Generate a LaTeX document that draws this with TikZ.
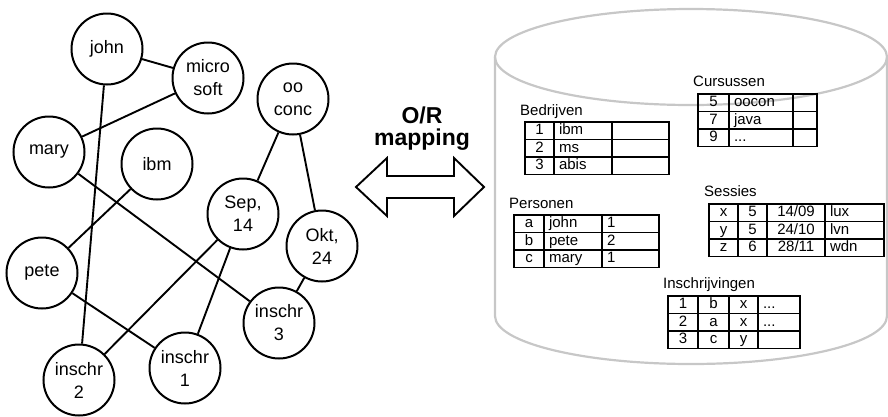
\documentclass[tikz,border=0pt]{standalone}
\usepackage{fontspec}
\setmainfont{Liberation Sans}
\usetikzlibrary{matrix}
\tikzset{
  obj/.style={draw,circle,line width=2pt,minimum size=71pt,inner sep=0pt,
    align=center,font=\fontsize{18}{23}\selectfont},
  link/.style={line width=1.9pt},
  dbtab/.style={matrix of nodes,nodes in empty cells,
    column sep=-\pgflinewidth,row sep=-\pgflinewidth,line width=1.7pt,
    nodes={draw,line width=1.7pt,font=\fontsize{15}{18}\selectfont,
      minimum height=17.5pt,text height=11pt,text depth=3.5pt,inner sep=0pt}},
  mid/.style={minimum width=#1},
  lft/.style={text width=#1,inner xsep=5pt,align=left},
  tabtitle/.style={anchor=base west,inner sep=0pt,font=\fontsize{15}{18}\selectfont}
}
\begin{document}
\begin{tikzpicture}[x=1pt,y=-1pt]
\useasboundingbox (0,0) rectangle (888,416);
% the object graph
\node[obj] (john) at (107,49) {john};
\node[obj] (ms) at (208,78) {micro\\soft};
\node[obj] (oo) at (293,99) {oo\\conc};
\node[obj] (mary) at (49,152) {mary};
\node[obj] (ibm) at (157,164) {ibm};
\node[obj] (sep) at (243,214) {Sep,\\14};
\node[obj] (okt) at (322,246) {Okt,\\24};
\node[obj] (pete) at (42,273) {pete};
\node[obj] (ins3) at (279,323) {inschr\\3};
\node[obj] (ins1) at (185,368) {inschr\\1};
\node[obj] (ins2) at (79,380) {inschr\\2};
\draw[link] (john) -- (ms);
\draw[link] (john) -- (ins2);
\draw[link] (ms) -- (mary);
\draw[link] (mary) -- (ins3);
\draw[link] (ibm) -- (pete);
\draw[link] (oo) -- (sep);
\draw[link] (oo) -- (okt);
\draw[link] (okt) -- (ins3);
\draw[link] (sep) -- (ins2);
\draw[link] (sep) -- (ins1);
\draw[link] (pete) -- (ins1);
% the mapping arrow
\node[align=center,font=\fontsize{23}{22}\bfseries] (map) at (422,129) {O/R\\mapping};
\draw[line width=1.9pt] (356,187) -- (387,158) -- (387,176) -- (454,176) -- (454,158)
  -- (484,187) -- (454,216) -- (454,198) -- (387,198) -- (387,216) -- cycle;
% the database
\draw[line width=2.2pt,black!22] (691,57) ellipse [x radius=196pt,y radius=48pt];
\draw[line width=2.2pt,black!22] (495,57) -- (495,316)
  arc [start angle=180,end angle=360,x radius=196pt,y radius=48pt] -- (887,57);
% the tables
\matrix (bedr) [dbtab,anchor=north west,
  column 1/.style={nodes={mid=29pt}},column 2/.style={nodes={lft=48pt}},
  column 3/.style={nodes={lft=47pt}}] at (520,117) {
1 & ibm & \\
2 & ms & \\
3 & abis & \\
};
\node[tabtitle] (bedrt) at ([yshift=2pt]bedr.north west) {Bedrijven};
\matrix (pers) [dbtab,anchor=north west,
  column 1/.style={nodes={mid=30pt}},column 2/.style={nodes={lft=48pt}},
  column 3/.style={nodes={lft=47pt}}] at (509,210) {
a & john & 1 \\
b & pete & 2 \\
c & mary & 1 \\
};
\node[tabtitle] (perst) at ([yshift=2pt]pers.north west) {Personen};
\matrix (curs) [dbtab,anchor=north west,
  column 1/.style={nodes={mid=31pt}},column 2/.style={nodes={lft=54pt}},
  column 3/.style={nodes={lft=14pt}}] at (693,89) {
5 & oocon & \\
7 & java & \\
9 & ... & \\
};
\node[tabtitle] (curst) at ([yshift=2.5pt]curs.north west) {Cursussen};
\matrix (sess) [dbtab,anchor=north west,
  column 1/.style={nodes={mid=29pt}},column 2/.style={nodes={mid=29pt}},
  column 3/.style={nodes={mid=58pt}},column 4/.style={nodes={lft=49pt}}] at (704,199) {
x & 5 & 14/09 & lux \\
y & 5 & 24/10 & lvn \\
z & 6 & 28/11 & wdn \\
};
\node[tabtitle] (sesst) at ([yshift=2.5pt]sess.north west) {Sessies};
\matrix (insc) [dbtab,anchor=north west,
  column 1/.style={nodes={mid=30pt}},column 2/.style={nodes={mid=31pt}},
  column 3/.style={nodes={mid=29pt}},column 4/.style={nodes={lft=32pt}}] at (663,291) {
1 & b & x & ... \\
2 & a & x & ... \\
3 & c & y & \\
};
\node[tabtitle] (insct) at ([yshift=2.5pt]insc.north west) {Inschrijvingen};
\end{tikzpicture}
\end{document}
